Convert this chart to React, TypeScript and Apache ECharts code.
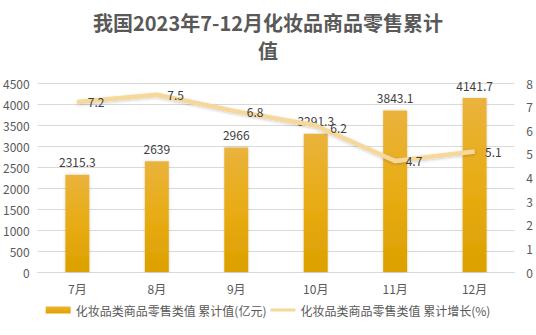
import React, { useEffect, useRef } from "react";
import * as echarts from "echarts";

const categories = ["7月", "8月", "9月", "10月", "11月", "12月"];
const cumulativeValue = [2315.3, 2639, 2966, 3291.3, 3843.1, 4141.7];
const cumulativeGrowth = [7.2, 7.5, 6.8, 6.2, 4.7, 5.1];
const barName = "化妆品类商品零售类值 累计值(亿元)";
const lineName = "化妆品类商品零售类值 累计增长(%)";
const titleText = "我国2023年7-12月化妆品商品零售累计\n值";

export default function App() {
  const ref = useRef<HTMLDivElement>(null);
  useEffect(() => {
    if (!ref.current) return;
    const chart = echarts.init(ref.current, undefined, { renderer: "svg" });
    const font = "'Microsoft YaHei', 'Noto Sans CJK SC', sans-serif";
    const lineColor = "#F6D89B";
    // The 10月 growth label sits right next to the bar label; nudge it slightly.
    const growthData = cumulativeGrowth.map((v, i) =>
      i === 3 ? { value: v, label: { offset: [4, 2] } } : v
    );
    chart.setOption({
      animation: false,
      backgroundColor: "#ffffff",
      textStyle: { fontFamily: font },
      title: {
        text: titleText,
        left: "center",
        top: 3,
        textStyle: {
          fontSize: 20,
          fontWeight: "bold",
          color: "#595959",
          lineHeight: 28,
          fontFamily: font,
        },
      },
      grid: { left: 35, right: 21, top: 83, bottom: 63 },
      legend: {
        bottom: 14,
        left: "center",
        itemGap: 4,
        itemWidth: 25,
        itemHeight: 7,
        textStyle: { color: "#595959", fontSize: 12, fontFamily: font },
        data: [
          { name: barName, icon: "rect" },
          {
            name: lineName,
            icon: "path://M0,0 M0,2 L25,2 L25,5 L0,5 Z M25,7",
            itemStyle: { color: lineColor, opacity: 1 },
          },
        ],
      },
      xAxis: {
        type: "category",
        data: categories,
        axisLine: { lineStyle: { color: "#d9d9d9" } },
        axisTick: { show: false },
        axisLabel: { color: "#595959", fontSize: 12, margin: 10 },
      },
      yAxis: [
        {
          type: "value",
          min: 0,
          max: 4500,
          interval: 500,
          axisLine: { show: false },
          axisTick: { show: false },
          axisLabel: {
            color: "#595959",
            fontSize: 12,
            margin: 8,
            formatter: (v: number) => String(v),
          },
          splitLine: { lineStyle: { color: "#d9d9d9" } },
        },
        {
          type: "value",
          min: 0,
          max: 8,
          interval: 1,
          axisLine: { show: false },
          axisTick: { show: false },
          axisLabel: { color: "#595959", fontSize: 12, margin: 12 },
          splitLine: { show: false },
        },
      ],
      series: [
        {
          name: barName,
          type: "bar",
          data: cumulativeValue,
          barWidth: 24,
          itemStyle: {
            color: new echarts.graphic.LinearGradient(0, 0, 0, 1, [
              { offset: 0, color: "#EAB33C" },
              { offset: 0.5, color: "#E8AC14" },
              { offset: 1, color: "#DCA000" },
            ]),
            shadowColor: "rgba(0,0,0,0.15)",
            shadowBlur: 3,
          },
          label: {
            show: true,
            position: "top",
            distance: 7,
            color: "#404040",
            fontSize: 12,
          },
        },
        {
          name: lineName,
          type: "line",
          yAxisIndex: 1,
          data: growthData,
          symbol: "circle",
          symbolSize: 1,
          showSymbol: true,
          z: 3,
          lineStyle: {
            color: lineColor,
            width: 4.5,
            shadowColor: "rgba(0,0,0,0.2)",
            shadowBlur: 3,
            shadowOffsetY: 1,
          },
          itemStyle: { color: lineColor },
          label: {
            show: true,
            position: "right",
            distance: 10,
            color: "#404040",
            fontSize: 12,
          },
        },
      ],
    });
    return () => chart.dispose();
  }, []);
  return (
    <div
      ref={ref}
      style={{ position: "absolute", left: 0, top: 0, width: 536, height: 335 }}
    />
  );
}
